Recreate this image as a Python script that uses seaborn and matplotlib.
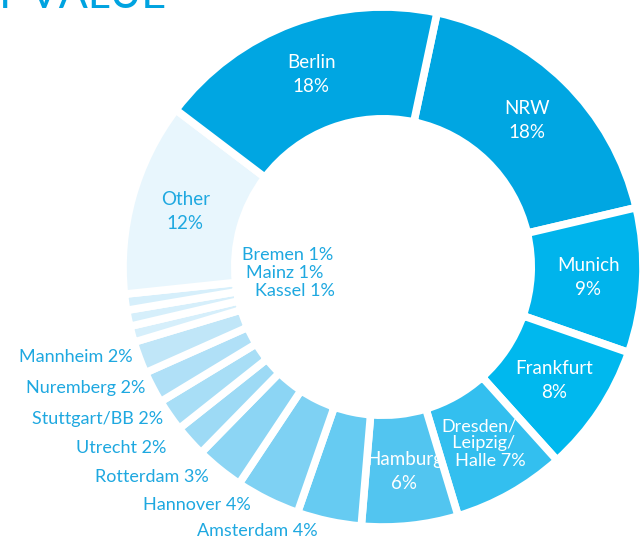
import numpy as np
import matplotlib
matplotlib.use("Agg")
import matplotlib.pyplot as plt
import seaborn as sns

sns.set_theme(style="white")
plt.rcParams['font.family'] = ['Lato', 'DejaVu Sans']

# Data (clockwise from the Berlin/NRW boundary)
cities = ["NRW", "Munich", "Frankfurt", "Dresden/\nLeipzig/\nHalle", "Hamburg",
          "Amsterdam", "Hannover", "Rotterdam", "Utrecht", "Stuttgart/BB",
          "Nuremberg", "Mannheim", "Kassel", "Mainz", "Bremen", "Other", "Berlin"]
shares = [18, 9, 8, 7, 6, 4, 4, 3, 2, 2, 2, 2, 1, 1, 1, 12, 18]
colors = ["#00A6E2", "#00B4EC", "#00B8EE", "#33BFEF", "#52C5F0",
          "#66CBF2", "#7ED1F3", "#8CD5F4", "#9DDAF5", "#A8DEF6",
          "#B0E0F7", "#C0E6F8", "#D6EFFB", "#D6EFFB", "#D6EFFB", "#E8F6FD", "#00A6E2"]
inside = ["NRW", "Munich", "Frankfurt", "Dresden/\nLeipzig/\nHalle", "Hamburg", "Other", "Berlin"]

TXT = "#1EA8E0"
W, H = 643, 540
CX, CY = 383, 267
R_PX = 260.0

fig = plt.figure(figsize=(W / 100, H / 100), dpi=100)
ax = fig.add_axes([0, 0, 1, 1])

start = 90 - 12
wedges, _ = ax.pie(shares, colors=colors, startangle=start, counterclock=False,
                   radius=1.0, wedgeprops=dict(width=0.43, edgecolor="white", linewidth=5.5))

ax.set_aspect("auto")
ax.set_xlim(-CX / R_PX, (W - CX) / R_PX)
ax.set_ylim(-(H - CY) / R_PX, CY / R_PX)
ax.axis("off")

def px(x, y):
    return ((x - CX) / R_PX, (CY - y) / R_PX)

# inside labels at the slice mid-angles
total = sum(shares)
cum = 0
for name, val in zip(cities, shares):
    mid = start - (cum + val / 2) / total * 360
    cum += val
    if name in inside:
        r = 0.79
        x, y = r * np.cos(np.radians(mid)), r * np.sin(np.radians(mid))
        col = TXT if name == "Other" else "white"
        if name.startswith("Dresden"):
            txt = "Dresden/\n  Leipzig/\n     Halle 7%"
            ax.text(x - 0.02, y + 0.01, txt, ha="center", va="center", color=col,
                    fontsize=13, linespacing=1.1)
        else:
            ax.text(x, y, f"{name}\n{val}%", ha="center", va="center", color=col,
                    fontsize=13.5, linespacing=1.5)

# outside labels (right-aligned list)
out_labels = {
    "Mannheim": (133, 357), "Nuremberg": (145, 388), "Stuttgart/BB": (163, 419),
    "Utrecht": (166, 448), "Rotterdam": (209, 477), "Hannover": (251, 505),
    "Amsterdam": (318, 531),
}
for name, val in zip(cities, shares):
    if name in out_labels:
        x, y = px(*out_labels[name])
        ax.text(x, y, f"{name} {val}%", ha="right", va="center", color=TXT,
                fontsize=13)

small = {"Bremen": (242, 255), "Mainz": (246, 273), "Kassel": (255, 291)}
for name, val in zip(cities, shares):
    if name in small:
        x, y = px(*small[name])
        ax.text(x, y, f"{name} {val}%", ha="left", va="center", color=TXT,
                fontsize=13)

# partially visible title at the top
tx, ty = px(166, 8)
ax.text(tx, ty, "BY VALUE", ha="right", va="baseline", color="#00A3E0",
        fontsize=31)

fig.savefig("out.png", dpi=100)
